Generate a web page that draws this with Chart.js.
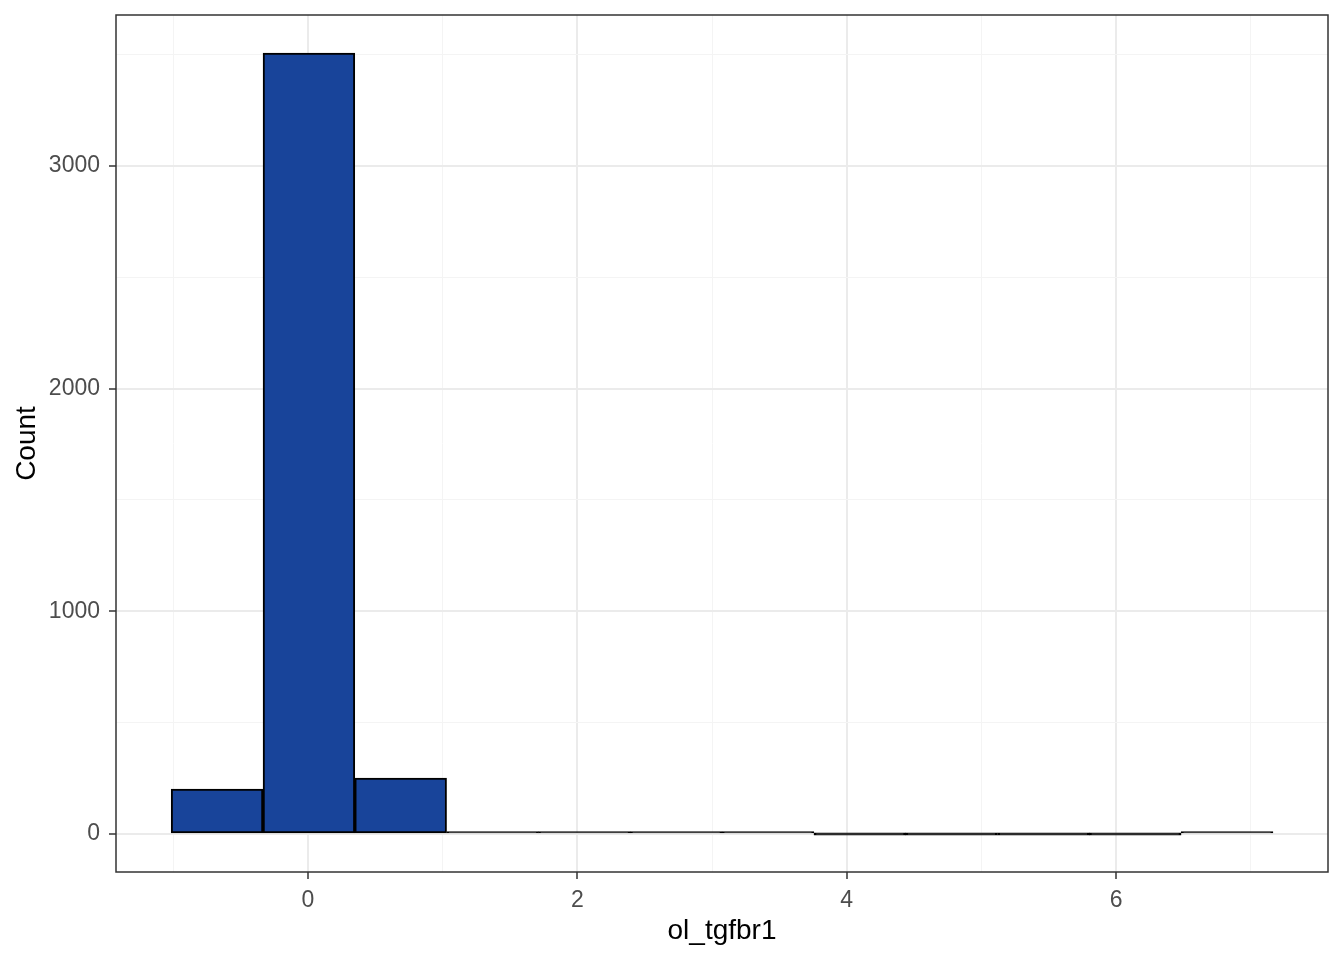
<!DOCTYPE html>
<html>
<head>
<meta charset="utf-8">
<script src="https://cdn.jsdelivr.net/npm/chart.js@4"></script>
<style>
  html, body { margin: 0; padding: 0; background: #ffffff; }
  canvas { display: block; }
</style>
</head>
<body>
<canvas id="histChart" width="1344" height="960"></canvas>
<script>
// bin centres of the histogram (ol_tgfbr1) and counts per bin
const binCenters = [-0.674, 0.008, 0.689, 1.371, 2.052, 2.734, 3.415, 4.097, 4.778, 5.460, 6.141, 6.823];
const binCounts = [202, 3507, 251, 8, 5, 1, 1, 0, 0, 0, 0, 1];

// gridlines: major ones get a label, minor ones do not
const xTicks = [-1, 0, 1, 2, 3, 4, 5, 6, 7];
const xLabels = ['', '0', '', '2', '', '4', '', '6', ''];
const yTicks = [0, 500, 1000, 1500, 2000, 2500, 3000, 3500];
const yLabels = ['0', '', '1000', '', '2000', '', '3000', ''];

const FONT = "'Liberation Sans', Arial, sans-serif";

// panel border like theme_bw
const panelFrame = {
    id: 'panelFrame',
    afterDraw(chart) {
        const { ctx, chartArea } = chart;
        ctx.save();
        ctx.strokeStyle = '#333333';
        ctx.lineWidth = 1.5;
        ctx.strokeRect(chartArea.left, chartArea.top,
            chartArea.right - chartArea.left, chartArea.bottom - chartArea.top);
        ctx.restore();
    }
};

function gridColor(ctx) {
    return ctx.index % 2 === (ctx.scale.axis === 'x' ? 1 : 0) ? '#ebebeb' : '#f4f4f4';
}

const ctx = document.getElementById('histChart').getContext('2d');
new Chart(ctx, {
    type: 'bar',
    data: {
        datasets: [{
            data: binCenters.map((x, i) => ({ x: x, y: binCounts[i] })),
            // very short bars read as a black line, like the reference
            backgroundColor: c => (c.raw && c.raw.y < 20 ? '#000000' : '#18449a'),
            borderColor: '#000000',
            borderWidth: 2,
            borderSkipped: false,
            minBarLength: 2.5,
            barPercentage: 1,
            categoryPercentage: 1
        }]
    },
    options: {
        responsive: false,
        animation: false,
        devicePixelRatio: 1,
        layout: { padding: { top: 15, right: 16, left: 0, bottom: 0 } },
        plugins: {
            legend: { display: false },
            tooltip: { enabled: false }
        },
        scales: {
            x: {
                type: 'linear',
                min: -1.424,
                max: 7.572,
                offset: false,
                afterBuildTicks: scale => { scale.ticks = xTicks.map(v => ({ value: v })); },
                afterFit: scale => { scale.height = 88; scale.paddingLeft = 0; scale.paddingRight = 0; },
                grid: {
                    offset: false,
                    color: gridColor,
                    lineWidth: c => (c.index % 2 === 1 ? 2 : 1),
                    tickColor: c => (c.index % 2 === 1 ? '#333333' : 'rgba(0,0,0,0)'),
                    tickWidth: 1.5,
                    tickLength: 7
                },
                border: { display: false },
                ticks: {
                    autoSkip: false,
                    maxRotation: 0,
                    padding: 8,
                    color: '#4d4d4d',
                    font: { family: FONT, size: 23 },
                    callback: (v, i) => xLabels[i]
                },
                title: {
                    display: true,
                    text: 'ol_tgfbr1',
                    color: '#000000',
                    font: { family: FONT, size: 28 },
                    padding: { top: 0, bottom: 12 }
                }
            },
            y: {
                type: 'linear',
                min: -170.7,
                max: 3678,
                afterBuildTicks: scale => { scale.ticks = yTicks.map(v => ({ value: v })); },
                afterFit: scale => { scale.width = 116; scale.paddingTop = 0; scale.paddingBottom = 0; },
                grid: {
                    color: gridColor,
                    lineWidth: c => (c.index % 2 === 0 ? 2 : 1),
                    tickColor: c => (c.index % 2 === 0 ? '#333333' : 'rgba(0,0,0,0)'),
                    tickWidth: 1.5,
                    tickLength: 7
                },
                border: { display: false },
                ticks: {
                    autoSkip: false,
                    padding: 9,
                    color: '#4d4d4d',
                    font: { family: FONT, size: 23 },
                    callback: (v, i) => yLabels[i]
                },
                title: {
                    display: true,
                    text: 'Count',
                    color: '#000000',
                    font: { family: FONT, size: 28 },
                    padding: { top: 10, bottom: 0 }
                }
            }
        }
    },
    plugins: [panelFrame]
});
</script>
</body>
</html>
